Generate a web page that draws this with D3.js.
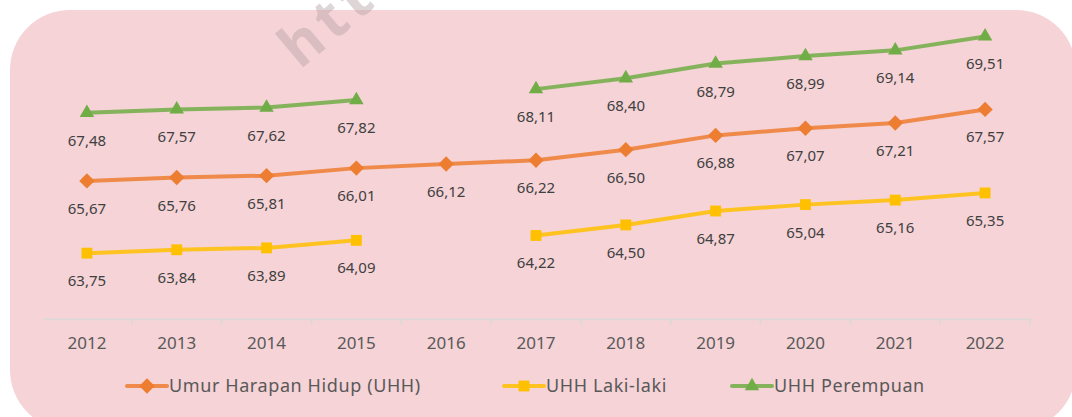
<!DOCTYPE html>
<html>
<head>
<meta charset="utf-8">
<script src="https://cdn.jsdelivr.net/npm/d3@7"></script>
<style>
  body { margin: 0; background: #ffffff; }
  svg { display: block; font-family: "Noto Sans", sans-serif; }
</style>
</head>
<body>
<div id="container"></div>
<script>
// Data
const years = ["2012","2013","2014","2015","2016","2017","2018","2019","2020","2021","2022"];
const uhh = [65.67, 65.76, 65.81, 66.01, 66.12, 66.22, 66.50, 66.88, 67.07, 67.21, 67.57];
const uhhLaki = [63.75, 63.84, 63.89, 64.09, null, 64.22, 64.50, 64.87, 65.04, 65.16, 65.35];
const uhhPerempuan = [67.48, 67.57, 67.62, 67.82, null, 68.11, 68.40, 68.79, 68.99, 69.14, 69.51];

const seriesNames = ["Umur Harapan Hidup (UHH)", "UHH Laki-laki", "UHH Perempuan"];

const width = 1072;
const height = 417;

const series = [
  { name: seriesNames[0], values: uhh, color: "#ED7D31", symbol: d3.symbolDiamond2, size: 150 },
  { name: seriesNames[1], values: uhhLaki, color: "#FFC000", symbol: d3.symbolSquare2, size: 150 },
  { name: seriesNames[2], values: uhhPerempuan, color: "#70AD47", symbol: d3.symbolTriangle2, size: 150 }
];

// Scales
const x = d3.scaleBand()
  .domain(years)
  .range([42, 1030]);

const y = d3.scaleLinear()
  .domain([62, 70])
  .range([319, 18]);

const fmt = d3.formatLocale({ decimal: ",", thousands: ".", grouping: [3], currency: ["", ""] }).format(".2f");

const svg = d3.create("svg")
  .attr("width", width)
  .attr("height", height);

// Background
svg.append("rect")
  .attr("x", 10)
  .attr("y", 10)
  .attr("width", 1066)
  .attr("height", 420)
  .attr("rx", 60)
  .attr("ry", 60)
  .attr("fill", "#F5D3D6");

// Watermark (cut by the top edge, as in the source)
svg.append("text")
  .attr("transform", "translate(300,70) rotate(-40)")
  .attr("font-size", 58)
  .attr("font-weight", "bold")
  .attr("letter-spacing", 6)
  .attr("fill", "#b8a4a7")
  .attr("opacity", 0.45)
  .text("htt");

// X axis
const xAxis = svg.append("g")
  .attr("transform", "translate(0,319)")
  .call(d3.axisBottom(x).tickSize(0).tickPadding(18));
xAxis.select(".domain").attr("stroke", "#d9d9d9").attr("stroke-width", 1.5);
xAxis.selectAll("text")
  .attr("font-size", 17)
  .attr("fill", "#595959")
  .attr("font-family", "Noto Sans, sans-serif");

// boundary ticks between categories
const bounds = years.map(d => x(d)).concat([x.range()[1]]);
svg.append("g")
  .selectAll("line")
  .data(bounds.slice(1))
  .join("line")
  .attr("x1", d => d)
  .attr("x2", d => d)
  .attr("y1", 319)
  .attr("y2", 325)
  .attr("stroke", "#d9d9d9")
  .attr("stroke-width", 1.5);

const cx = d => x(d) + x.bandwidth() / 2;

// Lines, markers and labels
series.forEach(s => {
  const pts = years.map((yr, i) => ({ yr, v: s.values[i] }));

  const line = d3.line()
    .defined(d => d.v != null)
    .x(d => cx(d.yr))
    .y(d => y(d.v));

  svg.append("path")
    .datum(pts)
    .attr("fill", "none")
    .attr("stroke", s.color)
    .attr("stroke-opacity", 0.85)
    .attr("stroke-width", 4)
    .attr("stroke-linejoin", "round")
    .attr("d", line);

  const valid = pts.filter(d => d.v != null);

  svg.append("g")
    .selectAll("path")
    .data(valid)
    .join("path")
    .attr("transform", d => `translate(${cx(d.yr)},${y(d.v)})`)
    .attr("d", d3.symbol(s.symbol, s.size))
    .attr("fill", s.color);

  svg.append("g")
    .selectAll("text")
    .data(valid)
    .join("text")
    .attr("x", d => cx(d.yr))
    .attr("y", d => y(d.v) + 33)
    .attr("text-anchor", "middle")
    .attr("font-size", 15)
    .attr("fill", "#404040")
    .text(d => fmt(d.v));
});

// Legend
const legendX = [127, 504, 732];
const legend = svg.append("g")
  .selectAll("g")
  .data(series)
  .join("g")
  .attr("transform", (d, i) => `translate(${legendX[i]},386)`);

legend.append("line")
  .attr("x1", 0)
  .attr("x2", 40)
  .attr("stroke", d => d.color)
  .attr("stroke-opacity", 0.85)
  .attr("stroke-width", 4)
  .attr("stroke-linecap", "round");

legend.append("path")
  .attr("transform", "translate(20,0)")
  .attr("d", d => d3.symbol(d.symbol, d.size)())
  .attr("fill", d => d.color);

legend.append("text")
  .attr("x", 42)
  .attr("y", 6)
  .attr("font-size", 18)
  .attr("letter-spacing", 0.6)
  .attr("fill", "#595959")
  .text(d => d.name);

container.append(svg.node());
</script>
</body>
</html>
